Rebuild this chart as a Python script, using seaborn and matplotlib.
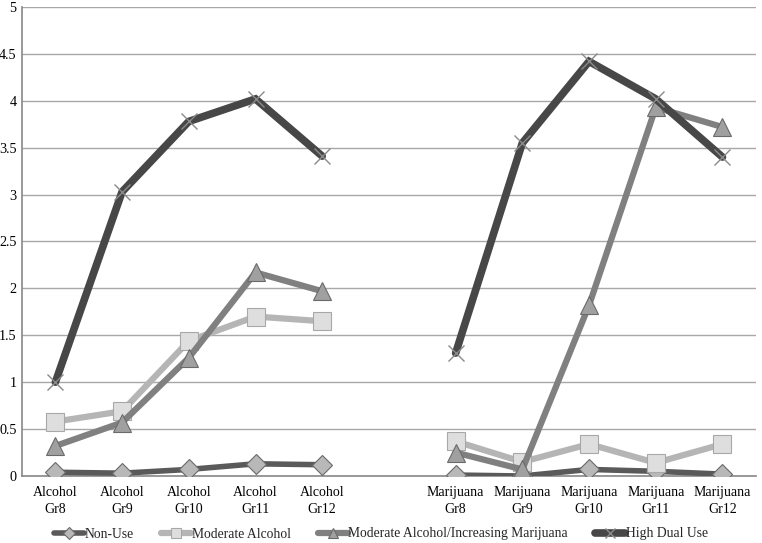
import matplotlib
matplotlib.use("Agg")
import matplotlib.pyplot as plt
import seaborn as sns
import pandas as pd
from matplotlib.lines import Line2D

categories = ["Alcohol\nGr8", "Alcohol\nGr9", "Alcohol\nGr10", "Alcohol\nGr11", "Alcohol\nGr12", "",
              "Marijuana\nGr8", "Marijuana\nGr9", "Marijuana\nGr10", "Marijuana\nGr11", "Marijuana\nGr12"]
alcohol_cats = categories[0:5]
marijuana_cats = categories[6:11]

series_names = ["Non-Use", "Moderate Alcohol", "Moderate Alcohol/Increasing Marijuana", "High Dual Use"]

non_use_alc = [0.04, 0.03, 0.07, 0.13, 0.12]
non_use_mar = [0.01, 0.00, 0.07, 0.05, 0.02]
mod_alc_alc = [0.58, 0.69, 1.44, 1.70, 1.65]
mod_alc_mar = [0.37, 0.15, 0.34, 0.14, 0.34]
mod_inc_alc = [0.32, 0.57, 1.26, 2.17, 1.97]
mod_inc_mar = [0.25, 0.07, 1.82, 3.93, 3.72]
high_alc = [1.00, 3.03, 3.78, 4.02, 3.41]
high_mar = [1.31, 3.55, 4.42, 4.02, 3.40]

yticks = [0, 0.5, 1, 1.5, 2, 2.5, 3, 3.5, 4, 4.5, 5]
ytick_labels = ["0", "0.5", "1", "1.5", "2", "2.5", "3", "3.5", "4", "4.5", "5"]

data = {
    "Non-Use": (non_use_alc, non_use_mar),
    "Moderate Alcohol": (mod_alc_alc, mod_alc_mar),
    "Moderate Alcohol/Increasing Marijuana": (mod_inc_alc, mod_inc_mar),
    "High Dual Use": (high_alc, high_mar),
}

styles = {
    "Non-Use": dict(color="#5a5a5a", lw=4.0, marker="D", ms=10, mfc="#b8b8b8", mec="#6a6a6a", mew=0.8),
    "Moderate Alcohol": dict(color="#b5b5b5", lw=4.5, marker="s", ms=13, mfc="#dedede", mec="#a8a8a8", mew=0.8),
    "Moderate Alcohol/Increasing Marijuana": dict(color="#808080", lw=4.5, marker="^", ms=13, mfc="#a0a0a0", mec="#6a6a6a", mew=0.8),
    "High Dual Use": dict(color="#474747", lw=5.5, marker="x", ms=11, mfc="#474747", mec="#8a8a8a", mew=1.0),
}

rows = []
for s in series_names:
    alc, mar = data[s]
    for c, v in zip(alcohol_cats, alc):
        rows.append(dict(series=s, domain="Alcohol", cat=c, x=categories.index(c), value=v))
    for c, v in zip(marijuana_cats, mar):
        rows.append(dict(series=s, domain="Marijuana", cat=c, x=categories.index(c), value=v))
df = pd.DataFrame(rows)

sns.set_theme(style="white")
plt.rcParams["font.family"] = ["Liberation Serif", "DejaVu Serif"]

fig = plt.figure(figsize=(7.62, 5.43), dpi=100)
ax = fig.add_axes([0.0289, 0.1234, 0.963, 0.8637])

for s in series_names:
    st = styles[s]
    for d in ["Alcohol", "Marijuana"]:
        sub = df[(df.series == s) & (df.domain == d)]
        sns.lineplot(data=sub, x="x", y="value", ax=ax, color=st["color"], linewidth=st["lw"],
                     marker=st["marker"], markersize=st["ms"], markerfacecolor=st["mfc"],
                     markeredgecolor=st["mec"], markeredgewidth=st["mew"], legend=False,
                     zorder=3, solid_joinstyle="miter")

ax.set_xlim(-0.5, len(categories) - 0.5)
ax.set_ylim(0, 5)
ax.set_yticks(yticks)
ax.set_yticklabels(ytick_labels, fontsize=10.2)
ax.set_xticks(range(len(categories)))
ax.set_xticklabels(categories, fontsize=10, linespacing=1.4)
ax.set_xlabel("")
ax.set_ylabel("")
ax.grid(axis="y", color="#a8a8a8", linewidth=1.0)
ax.grid(axis="x", visible=False)
ax.set_axisbelow(True)
for sp in ["top", "right"]:
    ax.spines[sp].set_visible(False)
ax.spines["left"].set_color("#8c8c8c")
ax.spines["bottom"].set_color("#8c8c8c")
ax.tick_params(axis="both", length=0, colors="black")
ax.tick_params(axis="y", pad=4)
ax.tick_params(axis="x", pad=7)

handles = []
for s in series_names:
    st = styles[s]
    handles.append(Line2D([0], [0], color=st["color"], lw=st["lw"], marker=st["marker"],
                          markersize=st["ms"] * 0.6, markerfacecolor=st["mfc"],
                          markeredgecolor=st["mec"], markeredgewidth=st["mew"]))
fig.legend(handles, series_names, loc="center", bbox_to_anchor=(0.50, 9 / 543), ncol=4,
           frameon=False, fontsize=9.8, handlelength=2.2, handletextpad=0.05, columnspacing=2.0,
           borderpad=0)

fig.savefig("out.png", dpi=100)
